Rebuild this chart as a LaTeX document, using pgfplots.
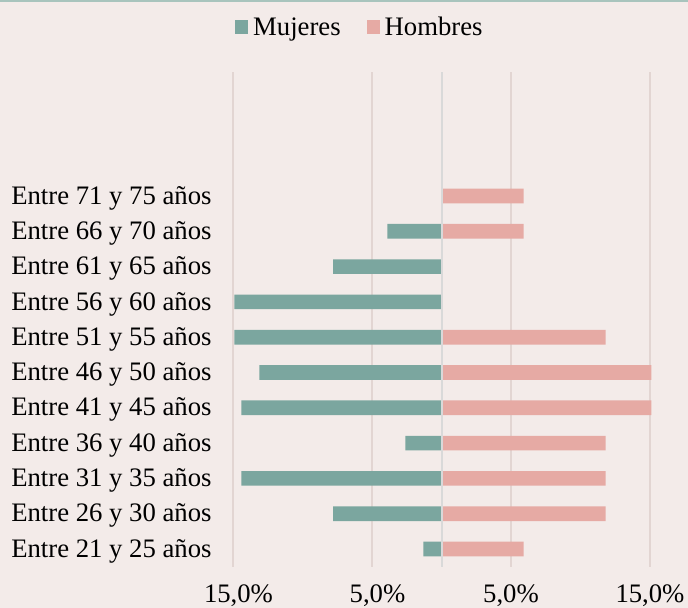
\documentclass[border=0pt]{standalone}
\usepackage{pgfplots}
\pgfplotsset{compat=1.18}
\usepackage{fontspec}
\setmainfont{Liberation Serif}
\definecolor{bg}{HTML}{F3EBE9}
\definecolor{muj}{HTML}{7BA69F}
\definecolor{hom}{HTML}{E6AAA4}
\definecolor{gridc}{HTML}{E2D5D2}
\definecolor{centerc}{HTML}{D9D9D9}
\definecolor{topline}{HTML}{A8C4BD}
\pgfplotstableread{
y muj hom
0 -1.3 5.9
1 -7.8 11.8
2 -14.4 11.8
3 -2.6 11.8
4 -14.4 15.1
5 -13.1 15.1
6 -14.9 11.8
7 -14.9 0
8 -7.8 0
9 -3.9 5.9
10 0 5.9
}\datatable
\newcommand{\chartfont}{\fontsize{26.7bp}{30bp}\selectfont}
\begin{document}
\chartfont
\begin{tikzpicture}
\fill[bg] (0bp,0bp) rectangle (688bp,608bp);
\fill[topline] (0bp,605.5bp) rectangle (688bp,608bp);
\begin{axis}[
  at={(233bp,41.35bp)}, anchor=south west,
  scale only axis, width=417bp, height=494.2bp,
  xmin=-15, xmax=15, ymin=-0.5, ymax=13.5,
  clip=false,
  xtick={-15,-5,5,15},
  xticklabels={{\hspace*{11bp}15,0\%},{\hspace*{11bp}5,0\%},{5,0\%},{15,0\%}},
  ytick={0,...,10},
  yticklabels={Entre 21 y 25 años,Entre 26 y 30 años,Entre 31 y 35 años,Entre 36 y 40 años,Entre 41 y 45 años,Entre 46 y 50 años,Entre 51 y 55 años,Entre 56 y 60 años,Entre 61 y 65 años,Entre 66 y 70 años,Entre 71 y 75 años},
  xmajorgrids, grid style={draw=gridc, line width=1.5bp},
  axis line style={draw=none}, tick style={draw=none},
  xticklabel style={anchor=base, yshift=-36bp, inner sep=0pt, font=\chartfont},
  yticklabel style={anchor=east, xshift=-17bp, yshift=-2bp, inner sep=0pt, font=\chartfont},
  xbar, bar width=0.414, bar shift=0pt,
  legend style={at={(0.0048,1.089)}, anchor=west, draw=none, fill=none,
    legend columns=2, inner sep=0pt,
    font=\chartfont,
    /tikz/every odd column/.append style={column sep=3bp},
    /tikz/every even column/.append style={column sep=24bp}},
  legend image code/.code={\fill[#1,draw=none] (0bp,-6bp) rectangle (13bp,8bp);},
]
\addplot[fill=muj, draw=none] table[x=muj, y=y] {\datatable};
\addlegendentry{Mujeres}
\addplot[fill=hom, draw=none] table[x=hom, y=y] {\datatable};
\addlegendentry{Hombres}
\draw[centerc, line width=2bp] (axis cs:0,-0.5) -- (axis cs:0,13.5);
\end{axis}
\pgfresetboundingbox
\path[use as bounding box] (0bp,0bp) rectangle (688bp,608bp);
\end{tikzpicture}
\end{document}
